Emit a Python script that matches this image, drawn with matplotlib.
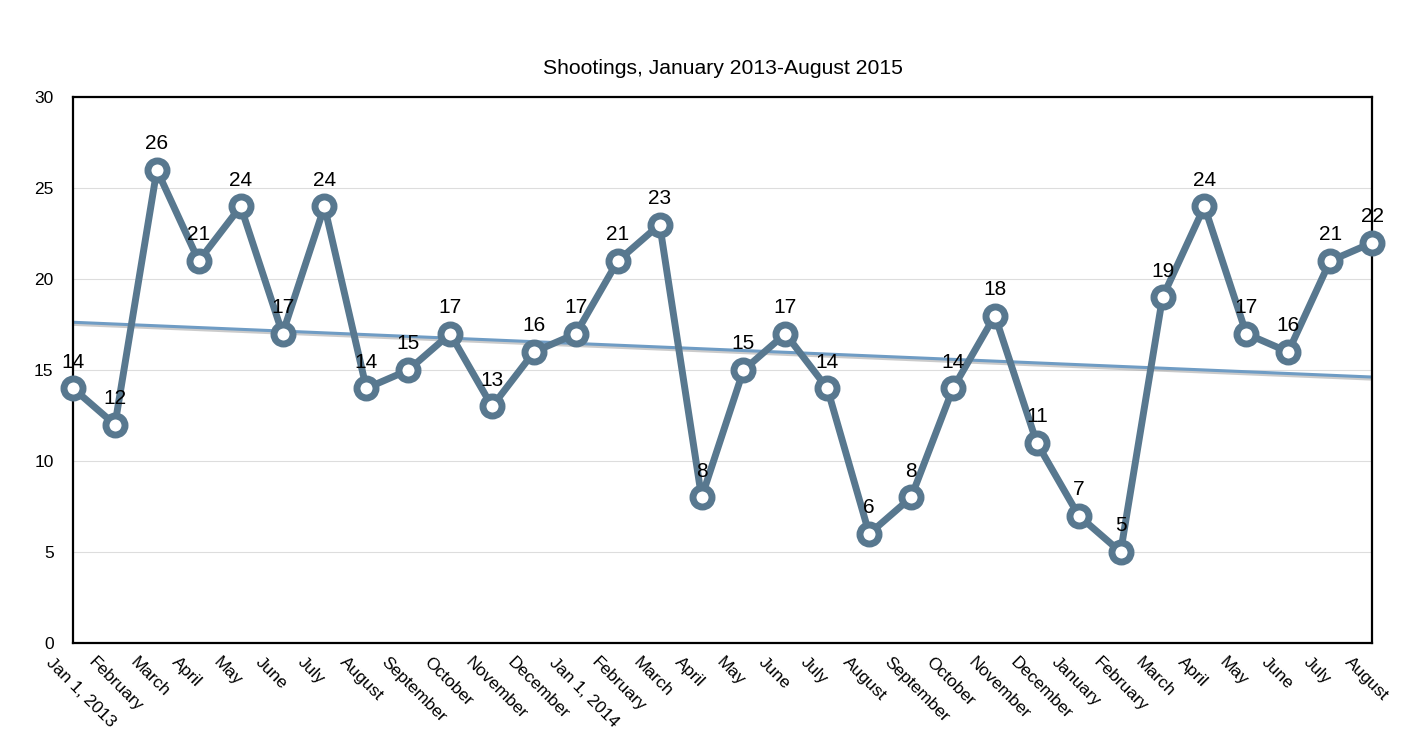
import matplotlib.pyplot as plt
import matplotlib.patheffects as pe
import matplotlib.transforms as mtransforms
import numpy as np

plt.rcParams['font.family'] = ['Liberation Sans', 'DejaVu Sans']

months = ["Jan 1, 2013", "February", "March", "April", "May", "June", "July",
          "August", "September", "October", "November", "December",
          "Jan 1, 2014", "February", "March", "April", "May", "June", "July",
          "August", "September", "October", "November", "December",
          "January", "February", "March", "April", "May", "June", "July",
          "August"]
shootings = [14, 12, 26, 21, 24, 17, 24, 14, 15, 17, 13, 16,
             17, 21, 23, 8, 15, 17, 14, 6, 8, 14, 18, 11,
             7, 5, 19, 24, 17, 16, 21, 22]

x = np.arange(len(shootings))

fig = plt.figure(figsize=(14.24, 7.48), dpi=100)
ax = fig.add_axes([0.0513, 0.1404, 0.9122, 0.7296])

line_col = "#58788f"
trend_col = "#6f9cc4"

# linear trend
slope, icept = np.polyfit(x, shootings, 1)
ax.plot(x, slope * x + icept, color=trend_col, lw=2.2, zorder=2,
        path_effects=[pe.SimpleLineShadow(offset=(0, -1.5), shadow_color="#999999", alpha=0.5),
                      pe.Normal()])

ax.plot(x, shootings, color=line_col, lw=5, marker="o", markersize=13.7,
        markerfacecolor="white", markeredgecolor=line_col, markeredgewidth=5,
        zorder=3, clip_on=False)

for xi, v in zip(x, shootings):
    ax.annotate(str(v), (xi, v), xytext=(0, 12), textcoords="offset points",
                ha="center", va="bottom", fontsize=15, color="black", zorder=4)

ax.set_xlim(0, len(shootings) - 1)
ax.set_ylim(0, 30)
ax.set_yticks(range(0, 31, 5))
ax.grid(axis="y", color="#dddddd", lw=0.8)
ax.set_axisbelow(True)
for s in ax.spines.values():
    s.set_linewidth(1.6)
    s.set_color("black")

ax.tick_params(axis="both", length=0, labelsize=12.5)
ax.tick_params(axis="y", pad=14)

ax.set_xticks(x)
ax.set_xticklabels(months, rotation=-45, ha="left", va="top",
                   rotation_mode="anchor", fontsize=12.5)
offset = mtransforms.ScaledTranslation(-0.19, -0.07, fig.dpi_scale_trans)
for lbl in ax.get_xticklabels():
    lbl.set_transform(lbl.get_transform() + offset)

ax.set_title("Shootings, January 2013-August 2015", fontsize=15.2, pad=17)

fig.savefig("out.png", dpi=100)
